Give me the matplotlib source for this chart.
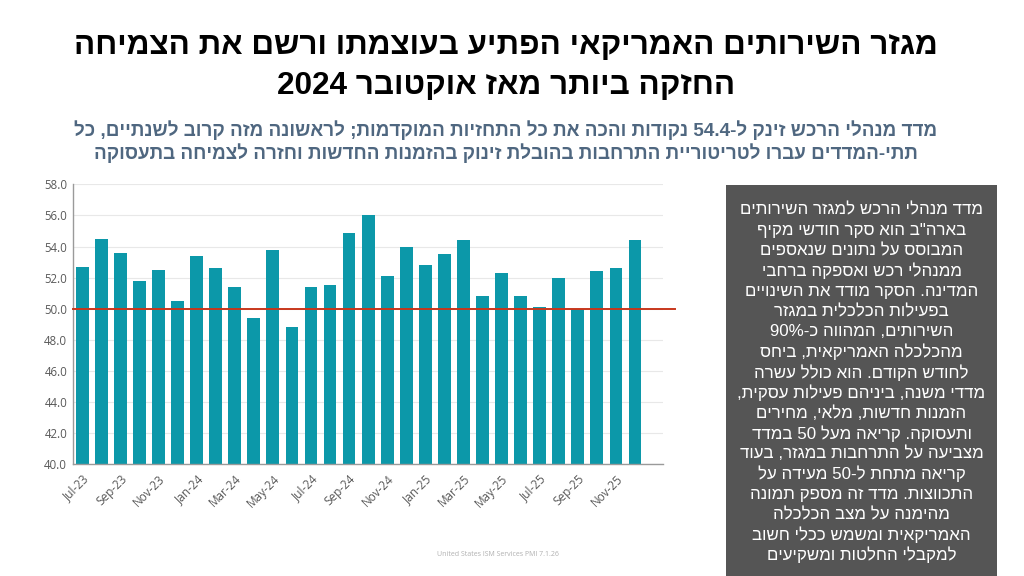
import re
import matplotlib
matplotlib.use('Agg')
import matplotlib.pyplot as plt
from matplotlib.patches import Rectangle

# ISM services PMI, monthly
months = ['Jul-23', 'Aug-23', 'Sep-23', 'Oct-23', 'Nov-23', 'Dec-23',
          'Jan-24', 'Feb-24', 'Mar-24', 'Apr-24', 'May-24', 'Jun-24',
          'Jul-24', 'Aug-24', 'Sep-24', 'Oct-24', 'Nov-24', 'Dec-24',
          'Jan-25', 'Feb-25', 'Mar-25', 'Apr-25', 'May-25', 'Jun-25',
          'Jul-25', 'Aug-25', 'Sep-25', 'Oct-25', 'Nov-25', 'Dec-25']
pmi = [52.7, 54.5, 53.6, 51.8, 52.5, 50.5,
       53.4, 52.6, 51.4, 49.4, 53.8, 48.8,
       51.4, 51.5, 54.9, 56.0, 52.1, 54.0,
       52.8, 53.5, 54.4, 50.8, 52.3, 50.8,
       50.1, 52.0, 50.0, 52.4, 52.6, 54.4]
threshold = 50.0
yticks = [40.0, 42.0, 44.0, 46.0, 48.0, 50.0, 52.0, 54.0, 56.0, 58.0]

title_lines = ['מגזר השירותים האמריקאי הפתיע בעוצמתו ורשם את הצמיחה',
               'החזקה ביותר מאז אוקטובר 2024']
subtitle_lines = ['מדד מנהלי הרכש זינק ל-54.4 נקודות והכה את כל התחזיות המוקדמות; לראשונה מזה קרוב לשנתיים, כל',
                  'תתי-המדדים עברו לטריטוריית התרחבות בהובלת זינוק בהזמנות החדשות וחזרה לצמיחה בתעסוקה']
box_lines = ['מדד מנהלי הרכש למגזר השירותים',
             'בארה"ב הוא סקר חודשי מקיף',
             'המבוסס על נתונים שנאספים',
             'ממנהלי רכש ואספקה ברחבי',
             'המדינה. הסקר מודד את השינויים',
             'בפעילות הכלכלית במגזר',
             'השירותים, המהווה כ-90%',
             'מהכלכלה האמריקאית, ביחס',
             'לחודש הקודם. הוא כולל עשרה',
             'מדדי משנה, ביניהם פעילות עסקית,',
             'הזמנות חדשות, מלאי, מחירים',
             'ותעסוקה. קריאה מעל 50 במדד',
             'מצביעה על התרחבות במגזר, בעוד',
             'קריאה מתחת ל-50 מעידה על',
             'התכווצות. מדד זה מספק תמונה',
             'מהימנה על מצב הכלכלה',
             'האמריקאית ומשמש ככלי חשוב',
             'למקבלי החלטות ומשקיעים']
source = 'United States ISM Services PMI 7.1.26'

HEB = ['Liberation Sans', 'DejaVu Sans']


def rtl(s):
    # matplotlib draws left to right: flip the line, keep numbers readable
    r = s[::-1]
    return re.sub(r'[0-9][0-9.%]*|%[0-9.]*[0-9]', lambda m: m.group(0)[::-1], r)


fig = plt.figure(figsize=(10.24, 5.76), dpi=100)
fig.patch.set_facecolor('white')

# titles
for i, line in enumerate(title_lines):
    fig.text(0.494, 1 - (46 + 40 * i) / 576, rtl(line), ha='center', va='center',
             fontsize=22.7, fontweight='bold', color='black', family=HEB)
for i, line in enumerate(subtitle_lines):
    fig.text(0.494, 1 - (130 + 23 * i) / 576, rtl(line), ha='center', va='center',
             fontsize=13.6, fontweight='bold', color='#4f6780', family=HEB)

# chart
ax = fig.add_axes([72.7 / 1024, 1 - 464.3 / 576, (663 - 72.7) / 1024, (464.3 - 184.3) / 576])
x = list(range(len(months)))
ax.bar(x, pmi, width=0.67, color='#0c98a9', zorder=2)
ax.axhline(threshold, xmin=0, xmax=1.02, color='#c8371c', lw=1.4, zorder=3, clip_on=False)
ax.set_ylim(40, 58)
ax.set_xlim(-0.5, 30.47)
ax.set_yticks(yticks)
ax.set_yticklabels(['%.1f' % v for v in yticks], fontsize=8.3, color='#595959', family='Open Sans')
ax.set_xticks(x[::2])
ax.set_xticklabels(months[::2], rotation=45, ha='right', rotation_mode='anchor',
                   fontsize=8.5, color='#595959', family='Open Sans')
ax.tick_params(length=0, pad=4)
ax.tick_params(axis='x', pad=6)
ax.grid(axis='y', color='#e8e8e8', lw=0.8, zorder=0)
for side in ['top', 'right']:
    ax.spines[side].set_visible(False)
for side in ['left', 'bottom']:
    ax.spines[side].set_color('#9a9a9a')
    ax.spines[side].set_linewidth(1.0)

# explanation box
fig.patches.append(Rectangle((726 / 1024, 0), (997 - 726) / 1024, 1 - 185 / 576,
                             transform=fig.transFigure, facecolor='#555555',
                             edgecolor='none', zorder=0))
for i, line in enumerate(box_lines):
    fig.text(861.5 / 1024, 1 - (210 + 20.3 * i) / 576, rtl(line), ha='center', va='center',
             fontsize=12.2, color='white', family=HEB)

fig.text(498 / 1024, 1 - 554 / 576, source, ha='center', va='center',
         fontsize=5, color='#b0b0b0', family='Open Sans')

fig.savefig('out.png', dpi=100)
